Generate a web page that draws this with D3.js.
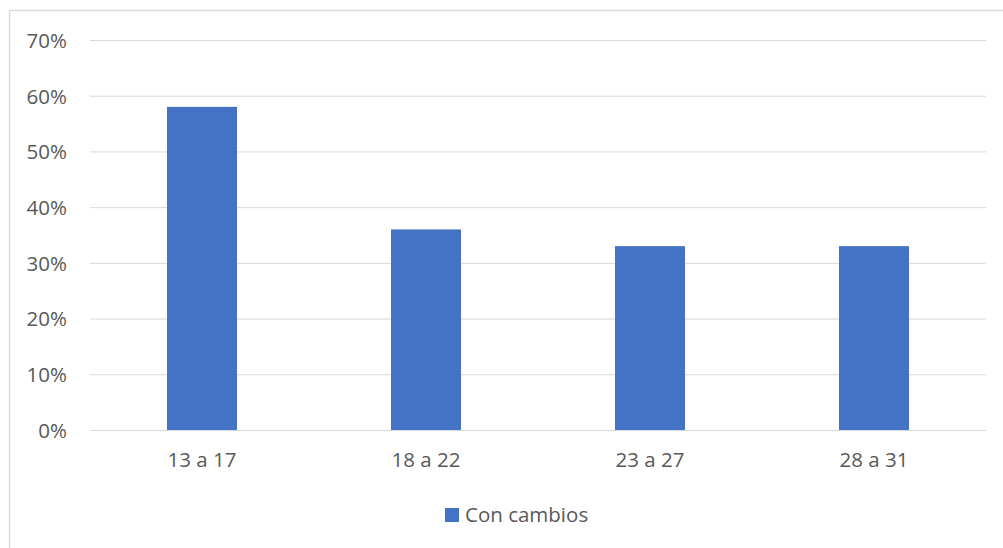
<!DOCTYPE html>
<html>
<head>
<meta charset="utf-8">
<script src="https://cdn.jsdelivr.net/npm/d3@7"></script>
<style>
  html, body { margin: 0; padding: 0; background: #fff; }
  svg { display: block; }
  text { font-family: "Open Sans", "Noto Sans", sans-serif; fill: #595959; }
</style>
</head>
<body>
<script>
// Age groups and share of respondents reporting changes
const categories = ["13 a 17", "18 a 22", "23 a 27", "28 a 31"];
const values = [0.58, 0.36, 0.33, 0.33];
const seriesName = "Con cambios";
const yTicks = [0, 0.1, 0.2, 0.3, 0.4, 0.5, 0.6, 0.7];

const W = 1003, H = 548;
const plot = { left: 90, right: 986, top: 40, bottom: 430 };
const barColor = "#4472C4";
const gridColor = "#d9d9d9";

const svg = d3.select("body").append("svg")
  .attr("width", W).attr("height", H);

// Chart frame
svg.append("rect")
  .attr("x", 9.5).attr("y", 10.5)
  .attr("width", W + 20).attr("height", H + 20)
  .attr("fill", "none").attr("stroke", gridColor).attr("stroke-width", 1.5);

const x = d3.scaleBand()
  .domain(categories)
  .range([plot.left, plot.right])
  .paddingInner(0.6875)
  .paddingOuter(0.34375);

const y = d3.scaleLinear()
  .domain([0, 0.7])
  .range([plot.bottom, plot.top]);

// Horizontal gridlines with percentage labels
const yAxis = d3.axisLeft(y)
  .tickValues(yTicks)
  .tickFormat(d3.format(".0%"))
  .tickSize(-(plot.right - plot.left))
  .tickPadding(23);

const gy = svg.append("g")
  .attr("transform", `translate(${plot.left},0)`)
  .call(yAxis);
gy.select(".domain").remove();
gy.selectAll(".tick line").attr("stroke", gridColor).attr("stroke-width", 1);
gy.selectAll(".tick text")
  .attr("font-size", 20.5)
  .attr("dy", "0.36em")
  .style("font-family", "'Open Sans', sans-serif")
  .attr("fill", "#595959");

// Bars
svg.append("g").selectAll("rect")
  .data(categories.map((c, i) => ({ c, v: values[i] })))
  .join("rect")
  .attr("x", d => x(d.c))
  .attr("y", d => y(d.v))
  .attr("width", x.bandwidth())
  .attr("height", d => y(0) - y(d.v))
  .attr("fill", barColor);

// Category axis labels
const xAxis = d3.axisBottom(x).tickSize(0).tickPadding(22);
const gx = svg.append("g")
  .attr("transform", `translate(0,${plot.bottom})`)
  .call(xAxis);
gx.select(".domain").remove();
gx.selectAll(".tick text")
  .attr("font-size", 20.5)
  .style("font-family", "'Open Sans', sans-serif")
  .attr("fill", "#595959");

// Legend
const legend = svg.append("g").attr("transform", "translate(445,508)");
legend.append("rect")
  .attr("width", 14).attr("height", 14)
  .attr("fill", barColor);
legend.append("text")
  .attr("x", 20).attr("y", 14)
  .attr("font-size", 20.5)
  .text(seriesName);
</script>
</body>
</html>
